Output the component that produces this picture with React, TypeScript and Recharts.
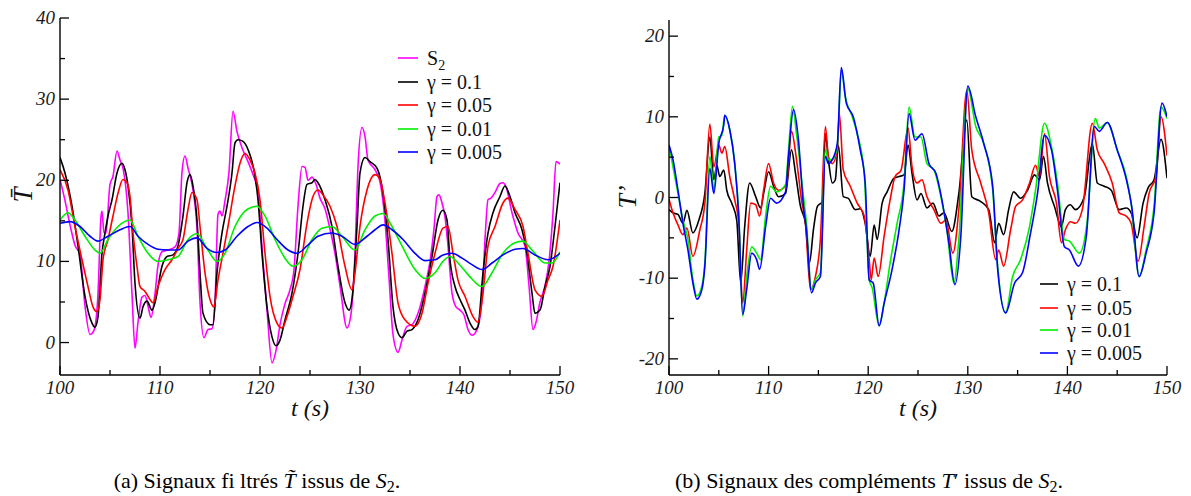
import React from 'react';
import { LineChart, Line, XAxis, YAxis } from 'recharts';

const SERIF = 'Liberation Serif';
const FONT_CSS = `
#root .serif, #root .serif tspan, #root svg text.serif { font-family: "Liberation Serif", "Times New Roman", Tinos, serif !important; }
#root .serif.it, #root tspan.it { font-style: italic !important; }
`;

// ---------- Panel (a): filtered signals ----------
const s2T = [100,100.5,101,101.5,102,102.5,103,103.4,103.8,104.1,104.2,104.4,104.6,105,105.3,105.7,106,106.3,106.8,107.2,107.5,107.8,108.2,108.5,108.8,109.1,109.5,109.8,110.2,110.8,111.5,111.9,112.2,112.5,112.8,113.3,113.7,114,114.4,114.8,115.2,115.5,115.8,116,116.2,116.5,116.9,117.3,117.7,118.2,118.8,119.3,119.8,120.3,120.7,121.2,121.6,122,122.5,123,123.4,123.8,124.2,124.5,124.8,125.2,125.6,126,126.5,127,127.5,128,128.7,129.1,129.5,129.8,130.2,130.5,130.8,131.5,132,132.5,132.9,133.3,133.8,134.2,134.7,135.2,135.8,136.5,137,137.4,137.7,137.9,138.2,138.5,138.8,139.2,139.6,140,140.4,140.8,141.2,141.7,142.2,142.5,142.8,143.1,143.5,144,144.3,144.6,145.2,145.8,146.5,146.9,147.3,147.6,148,148.5,148.9,149.3,149.6,150];
const s2V = [20.1,17.5,14.5,12,10.8,4.5,1.0,1.5,6,15.5,16.2,13.5,13.5,19.5,20.5,23.6,22.5,21.5,16,6,-0.7,2.5,5.6,5.8,4.5,3.1,6,9.5,11.2,11.4,11.8,13.5,21,23,21.5,18.8,14,5,0.6,1.6,1.7,5,15.8,16.2,15.6,17.5,21,28.5,26,24,22.3,20.7,18.5,10,4,-2.5,-1,2.2,4.8,6.5,9,16.8,21.7,21.6,20,20.4,19.5,17.8,16.5,14,11,7,1.8,3.5,11,21.7,26.5,25.4,22.5,21.3,19.8,15,8,1,-1.2,0.3,2,2.2,3.6,6.9,10,14,18,18.2,17.2,15.5,11.9,6.1,4.4,4,3.4,1.6,0.9,1.6,5.3,12.7,17.6,17.8,18.5,19.6,19.7,19.2,16,13.5,11.9,7,1.6,2.5,5,7,10,16,22.3,22];

const a01T = [100,100.5,101.2,101.8,102.5,103.2,103.5,103.8,104.2,104.5,104.8,105.2,105.7,106.2,106.5,106.8,107.2,107.5,108,108.3,108.7,109.2,109.5,110.2,110.7,111.3,111.8,112.3,112.7,113,113.3,113.7,114,114.3,115,115.3,115.7,116.2,116.7,117.2,117.5,117.8,118.3,118.8,119.5,119.8,120.2,120.7,121.2,121.6,122,122.5,123.2,123.8,124.3,124.7,125.2,125.5,125.8,126.5,127.2,127.8,128.5,128.9,129.3,129.7,130,130.5,131,131.7,132.3,132.8,133.3,133.8,134.2,134.7,135.2,135.8,136.5,137.2,137.8,138.3,138.7,139,139.5,140,140.5,141,141.5,141.8,142.3,142.8,143.3,144,144.5,145,145.5,146.2,146.7,147.2,147.5,148,148.5,149,149.5,150];
const a01V = [22.8,20.9,16.8,11.9,5.7,2.4,1.9,3.2,11,13.5,15.6,17.6,20.9,22.1,21.3,19.3,14.3,7.3,3,4.4,5.1,4,4.9,9.4,10.6,10.8,11.9,15.6,19.7,20.7,19.3,15.1,8.6,3.6,2.2,2.2,8.6,13.5,16.8,20.9,24.6,25,24.8,23.8,20.5,17.6,11,4.4,0.7,-0.4,0.3,2.8,6.1,11,16.8,19.5,19.7,20.1,19.7,17.6,14.3,9.4,4.9,4,6.5,14.3,20.9,22.8,22.3,21.5,18.4,12.7,4.4,1.2,0.6,1.4,1.6,2.8,6.1,10.6,15.1,16.3,15.1,10.2,6.9,5.3,4,2.4,1.6,2,8.6,13.5,16,18,19.3,18,16,13.9,11,6.1,3.6,4,6.9,9.4,14.3,19.7];

const a005T = [100,100.8,101.5,102.2,102.8,103.3,103.7,104,104.3,104.8,105.3,105.8,106.3,106.7,107,107.3,107.7,108,108.5,109,109.3,109.8,110.5,111.2,111.8,112.3,112.8,113.2,113.7,114,114.5,115,115.4,115.8,116.3,116.8,117.5,118,118.5,119,119.5,120,120.5,121,121.7,122.2,122.7,123.3,124,124.7,125.3,125.8,126.3,127,127.7,128.5,129.2,129.5,130,130.7,131.5,132,132.5,133.2,133.8,134.5,135.5,136.2,136.8,137.5,138.3,138.8,139.3,139.8,140.5,141.3,141.8,142.3,142.8,143.5,144.3,144.8,145.5,146.3,146.8,147.5,148.2,148.8,149.3,150];
const a005V = [21.3,18.8,14.3,10.2,6.9,4.4,3.8,5.3,10.2,12.7,15.6,18.4,20.1,19.7,18,13.5,9.4,6.9,6.3,5.3,4.9,6.9,9,10.2,11.6,12.7,16.4,18.5,17.6,14.3,8.6,5.3,4.4,7.7,11,14.3,19.3,22.1,23.3,22.5,20.9,17.6,11,5.7,2.4,1.8,3.2,5.7,9,14.7,18,18.8,18.2,16.8,14.3,9.4,6.5,8.6,14.3,18.8,20.7,20.1,17.2,11,4.9,2.8,2,3.6,7.3,11,14.1,14.3,11,7.7,5.7,3.2,2.5,6.1,11.9,14.3,17.2,17.8,16.4,14.3,11,6.5,5.7,7.7,9.4,15.1];

const a001T = [100,100.8,101.5,102.5,103.5,104,104.8,105.8,107,107.8,108.8,109.8,110.8,111.8,112.8,113.7,114.7,115.7,116.5,117.5,118.7,119.7,120.5,121.5,122.5,123.3,124.2,125.2,126.2,127.2,128.2,129.5,130.5,131.5,132.3,133.2,134.2,135.5,136.5,137.5,138.3,139,139.8,141,142.2,143.2,144.3,145.5,146.3,147.2,148.5,149.2,150];
const a001V = [15.1,16,15.1,13.1,11.4,11,12.7,14.3,15.1,13.1,11,10,10.2,10.6,12.7,13.4,11.6,10,11,14.3,16.4,16.8,15.6,12.7,10.4,9.4,10.2,12.7,14.1,14.3,13.1,11.4,13.9,15.6,15.9,14.3,11.9,9,7.9,8.6,10,10.6,9.8,8.1,6.9,8.6,11,12.3,12.5,11.4,9.8,9.8,11.2];

const a0005T = [100,101,102,103,103.8,104.8,106,107,107.8,108.8,109.8,110.8,111.8,112.8,113.7,114.7,115.7,116.5,117.7,118.8,119.7,120.7,121.7,122.8,123.7,124.7,125.8,127.2,128.2,129.5,130.7,131.5,132.3,133.2,134.3,135.5,136.5,137.5,138.3,139.2,140.2,141.2,142.2,143.2,144.3,145.5,146.3,147.5,148.8,150];
const a0005V = [14.7,14.9,14.3,13.1,12.5,13.1,13.9,14.3,13.1,12.1,11.5,11.4,11.4,12.5,12.9,11.6,11.1,11.4,13.1,14.3,14.8,14.1,12.7,11.4,11,11.9,13.1,13.5,13.1,12.1,13.1,13.9,14.5,13.9,12.7,11,10.1,10.2,10.8,11,10.4,9.6,9,9.8,10.8,11.5,11.6,10.8,10.2,11];

// ---------- Panel (b): complements ----------
const b01T = [100,100.4,100.9,101.4,101.8,102.4,103,103.6,104.1,104.5,104.8,105.1,105.5,105.8,106.3,106.8,107.2,107.6,108.1,108.7,109.2,109.5,110,110.5,111,111.7,112.3,112.7,113.2,113.7,114.1,114.5,114.9,115.4,115.7,116,116.4,116.7,117,117.5,118,118.7,119.2,119.7,120.2,120.6,120.9,121.4,121.9,122.6,123.1,123.6,124,124.4,124.9,125.3,125.9,126.5,127.1,127.6,128.4,129.1,129.9,130.4,131.3,132.1,132.7,133.1,133.6,134.1,134.6,135.3,136,136.7,137.2,137.6,138,138.7,139.4,139.8,140.3,140.8,141.7,142.5,143,143.7,144.4,145.2,145.9,146.4,147,147.6,148.1,148.7,149.4,150];
const b01V = [-1.5,-1.9,-2.1,-3.2,-1.6,-4.4,-2.8,0.5,7.5,2.2,4,2.6,3.4,0.9,-0.7,-2.8,-10.6,-3.6,1.8,0.1,-1.3,0.5,3.2,1.4,0.1,0.5,5.9,3,-1.1,-3.2,-8.1,-4,-1.1,-0.5,7.9,4.7,1.8,2.2,6.5,0.1,-0.1,-1.5,-1.4,-3.2,-7.3,-3.4,-5.2,-0.7,0.7,2.4,2.6,2.8,6.5,3,-0.3,0.5,-1.3,-0.7,-2.3,-1.9,-4.2,0.5,9.6,0.1,-0.5,-1.5,-5.6,-3.2,-4.6,-1.5,0.7,-0.1,0.9,2.8,2.2,5.1,1.8,-1.1,-3.6,-1.5,-0.9,-1.5,0.1,6.7,1.8,1.4,0.9,-1.5,-1.3,-1.9,-5,-0.7,1.2,2.2,7.2,2.4];

const b005T = [100,100.4,100.9,101.4,101.8,102.4,103.1,103.6,104.1,104.5,105,105.3,105.6,106.1,106.6,107,107.4,107.8,108.2,108.7,109.1,109.5,110,110.5,111,111.8,112.3,112.8,113.3,113.7,114.2,114.7,115.2,115.7,116,116.4,116.9,117.1,117.5,118.2,118.9,119.6,120.1,120.3,120.6,121,121.6,122.2,122.7,123.3,124,124.4,124.9,125.4,125.9,126.6,127.3,127.8,128.5,129.1,129.9,130.4,131.3,132.1,132.8,133.1,133.6,134.3,134.8,135.5,136.2,136.8,137.2,137.7,138.2,138.9,139.4,139.8,140.3,140.8,141.5,142.5,143,143.7,144.5,145.2,145.9,146.4,147.1,147.7,148.2,148.9,149.4,150];
const b005V = [-0.2,-1.9,-3.4,-4.6,-3.8,-7.3,-4,-0.7,9.1,3.8,6.5,5.5,6.3,2.6,-0.3,-3.2,-13.1,-6.5,-0.7,-0.9,-2.3,0.9,4.2,1.8,0.9,1.6,8.2,4.7,-0.3,-3.2,-11.4,-9.8,-5.2,8.8,5.1,4.2,5.9,10.4,3.4,1.4,-0.7,-2.3,-7.7,-10.2,-7.5,-9.8,-4.8,-0.3,2.6,3.4,8.6,3.8,1.8,2.2,0.1,-1.5,-3.2,-2.8,-6.9,-1.5,13.3,5.9,1.8,-1.9,-7.7,-6.5,-8.5,-4,-1.1,-0.3,1.8,4,2.6,7.9,2.6,-0.7,-5.6,-4,-3,-3.2,-1.5,9.2,5.9,4.2,1.8,-1.9,-2.3,-3.2,-7.9,-3.6,0.5,2.6,10,5.2];

const b001T = [100,100.4,100.9,101.4,101.9,102.4,102.8,103.3,103.6,104.1,104.5,105,105.3,105.6,106.1,106.6,107,107.4,107.8,108.3,108.8,109.2,109.7,110.2,110.8,111.7,112,112.4,112.8,113.5,113.8,114.3,114.7,115.2,115.7,116,116.4,116.9,117.3,117.7,118.4,118.9,119.6,120.1,120.4,121.1,121.6,122.2,122.9,123.6,124.1,124.7,125.3,125.9,126.6,127.3,127.9,128.6,129.1,130,130.8,131.6,132.5,133,133.8,134.5,135.3,136.2,136.8,137.7,138.4,139,139.7,140.2,141.2,142,142.8,143.2,144,145,145.9,146.4,147.2,147.9,148.7,149.4,150];
const b001V = [6.5,3.8,0.5,-2.8,-5.2,-10.2,-12.2,-11,-8.1,5.1,0.9,7.5,7.7,10.2,8.4,4.2,-1.9,-14.7,-9.8,-6.1,-6.9,-7.7,-2.3,1.4,0.7,1.6,5.9,11.3,7.9,0.1,-3.2,-11.4,-10.2,-9.3,5.9,4.7,4.7,6.3,15.8,12.5,10,7.9,3,-10.2,-11.2,-15.9,-13.1,-8.1,-3.2,1.8,11.2,7.5,7.5,4.2,3.4,0.1,-4,-10.6,-5.2,13.5,8.8,6.7,0.9,-8.5,-14.3,-9.8,-7.7,-3.6,0.9,9.2,6.3,1.8,-5.2,-5.4,-6.9,-2.8,9.8,8.6,9.3,5.9,2.6,-0.7,-9.8,-6.5,-1.1,11.2,9.8];

const b0005T = [100,100.4,100.9,101.4,101.9,102.4,102.8,103.3,103.6,104.1,104.5,105,105.5,105.6,106.1,106.6,107,107.4,107.8,108.3,108.8,109.1,109.7,110.2,110.8,111.7,112,112.5,113,113.5,113.8,114.3,114.7,115.2,115.7,116,116.4,116.9,117.3,117.8,118.5,119.2,119.7,120.1,120.5,121.1,121.6,122.4,123.1,123.6,124.1,124.7,125.4,126.1,126.8,127.4,128.1,128.7,129.3,130,130.8,131.6,132.5,133,133.8,134.7,135.5,136.3,137,137.7,138.4,139,139.7,140.2,141.1,141.9,142.7,143.2,144,145,146,146.5,147.2,147.9,148.7,149.5,150];
const b0005V = [6.5,4.7,0.9,-3.2,-6.5,-10.6,-12.6,-11.4,-8.5,3.6,0.5,6.7,9,10.2,8.4,4.2,-2.3,-14.5,-11.4,-6.9,-7.7,-8.9,-3.6,-0.1,-0.7,0.7,5.1,10.9,7.1,-1.1,-4,-11.8,-10.6,-9.8,5.1,4.2,4.7,6.7,16.1,11.7,10,5.9,1.8,-10.2,-10.6,-15.9,-13.1,-8.9,-4,0.9,10.4,7.1,7.9,4.2,3,-0.3,-5.6,-10.8,-4.8,13.8,10,6.7,1.4,-8.9,-14.3,-10.6,-9.3,-4.4,0.5,7.7,5.9,0.9,-6.1,-6.5,-8.5,-4.8,8.8,8.2,9.3,5.9,1.8,-1.5,-9.8,-6.9,-1.9,11.7,10];

const xTicks = [100, 105, 110, 115, 120, 125, 130, 135, 140, 145, 150];
const yTicksA = [0, 5, 10, 15, 20, 25, 30, 35, 40];
const yTicksB = [-20, -15, -10, -5, 0, 5, 10, 15, 20];

const mk = (ts: number[], vs: number[]) => ts.map((t, i) => ({ t, v: vs[i] }));

const seriesA = [
  { key: 's2', label: 'S', sub: '2', color: '#ff00ff', data: mk(s2T, s2V) },
  { key: 'a01', label: 'γ = 0.1', color: '#000000', data: mk(a01T, a01V) },
  { key: 'a005', label: 'γ = 0.05', color: '#ff0000', data: mk(a005T, a005V) },
  { key: 'a001', label: 'γ = 0.01', color: '#00ee00', data: mk(a001T, a001V) },
  { key: 'a0005', label: 'γ = 0.005', color: '#0000ff', data: mk(a0005T, a0005V) },
];
const seriesB = [
  { key: 'b01', label: 'γ = 0.1', color: '#000000', data: mk(b01T, b01V) },
  { key: 'b005', label: 'γ = 0.05', color: '#ff0000', data: mk(b005T, b005V) },
  { key: 'b001', label: 'γ = 0.01', color: '#00ee00', data: mk(b001T, b001V) },
  { key: 'b0005', label: 'γ = 0.005', color: '#0000ff', data: mk(b0005T, b0005V) },
];

const AX = { stroke: '#000', strokeWidth: 1.4 };

const makeXTick = (side: 'bottom' | 'top', labelled: boolean) => (props: any) => {
  const { x, y, payload } = props;
  const v = payload.value as number;
  const major = v % 10 === 0;
  const len = major ? 9 : 5;
  const dir = side === 'bottom' ? -1 : 1;
  return (
    <g>
      <line x1={x} y1={y} x2={x} y2={y + dir * len} stroke="#000" strokeWidth={1.3} />
      {labelled && major ? (
        <text className="serif it" x={x} y={y + 19} textAnchor="middle" fill="#1a1a1a" fontFamily={SERIF} fontStyle="italic" fontSize={19}>{v}</text>
      ) : null}
    </g>
  );
};

const makeYTick = (side: 'left' | 'right', labelled: boolean) => (props: any) => {
  const { x, y, payload } = props;
  const v = payload.value as number;
  const major = v % 10 === 0;
  const len = major ? 9 : 5;
  const dir = side === 'left' ? 1 : -1;
  return (
    <g>
      <line x1={x} y1={y} x2={x + dir * len} y2={y} stroke="#000" strokeWidth={1.3} />
      {labelled && major ? (
        <text className="serif it" x={x - 5} y={y + 6} textAnchor="end" fill="#1a1a1a" fontFamily={SERIF} fontStyle="italic" fontSize={19}>{v}</text>
      ) : null}
    </g>
  );
};

function Panel({ series, yDomain, yTicks, margin, width }: any) {
  return (
    <LineChart width={width} height={420} margin={margin}>
      <XAxis xAxisId="b" type="number" dataKey="t" domain={[100, 150]} ticks={xTicks} orientation="bottom"
        height={45} tickSize={0} tickMargin={0} tickLine={false} axisLine={AX} allowDataOverflow
        tick={makeXTick('bottom', true)} interval={0} />
      <XAxis xAxisId="t" type="number" dataKey="t" domain={[100, 150]} ticks={xTicks} orientation="top"
        height={0} tickSize={0} tickMargin={0} tickLine={false} axisLine={AX} allowDataOverflow
        tick={makeXTick('top', false)} interval={0} />
      <YAxis yAxisId="l" type="number" domain={yDomain} ticks={yTicks} orientation="left" width={60}
        tickSize={0} tickMargin={0} tickLine={false} axisLine={AX} allowDataOverflow
        tick={makeYTick('left', true)} interval={0} />
      <YAxis yAxisId="r" type="number" domain={yDomain} ticks={yTicks} orientation="right" width={0}
        tickSize={0} tickMargin={0} tickLine={false} axisLine={AX} allowDataOverflow
        tick={makeYTick('right', false)} interval={0} />
      {series.map((s: any) => (
        <Line key={s.key} xAxisId="b" yAxisId="l" data={s.data} dataKey="v" type="monotone"
          stroke={s.color} strokeWidth={1.6} dot={false} activeDot={false} isAnimationActive={false} />
      ))}
    </LineChart>
  );
}

export default function App() {
  const legA = { x1: 398, x2: 418, tx: 427, rows: [58, 82, 105, 129, 152] };
  const legB = { x1: 1040, x2: 1058, tx: 1067, rows: [284, 308, 330, 353] };
  return (
    <div style={{ position: 'relative', marginLeft: -8, marginTop: -8, width: 1191, height: 496, background: '#fff' }}>
      <style>{FONT_CSS}</style>
      <div style={{ position: 'absolute', left: 0, top: 0 }}>
        <Panel series={seriesA} yDomain={[-4, 40]} yTicks={yTicksA} width={600}
          margin={{ top: 18, right: 40, bottom: 0, left: 0 }} />
      </div>
      <div style={{ position: 'absolute', left: 609, top: 0 }}>
        <Panel series={seriesB} yDomain={[-22, 22]} yTicks={yTicksB} width={582}
          margin={{ top: 20, right: 24, bottom: 0, left: 0 }} />
      </div>
      <svg width={1191} height={496} style={{ position: 'absolute', left: 0, top: 0, pointerEvents: 'none' }}>
        <text className="serif it" transform="translate(32,195) rotate(-90)" textAnchor="middle" fill="#111" fontFamily={SERIF} fontStyle="italic" fontSize={27}>T̄</text>
        <text className="serif it" transform="translate(636,197) rotate(-90)" textAnchor="middle" fill="#111" fontFamily={SERIF} fontStyle="italic" fontSize={26}>T’</text>
        <text className="serif it" x={310} y={416} textAnchor="middle" fill="#111" fontFamily={SERIF} fontStyle="italic" fontSize={24}>t (s)</text>
        <text className="serif it" x={918} y={416} textAnchor="middle" fill="#111" fontFamily={SERIF} fontStyle="italic" fontSize={24}>t (s)</text>
        {seriesA.map((s, i) => (
          <g key={s.key}>
            <line x1={legA.x1} x2={legA.x2} y1={legA.rows[i]} y2={legA.rows[i]} stroke={s.color} strokeWidth={1.6} />
            <text className="serif" x={legA.tx} y={legA.rows[i] + 7} fill="#111" fontFamily={SERIF} fontSize={20}>
              {s.label}
              {s.sub ? <tspan dy={5} fontSize={14}>{s.sub}</tspan> : null}
            </text>
          </g>
        ))}
        {seriesB.map((s, i) => (
          <g key={s.key}>
            <line x1={legB.x1} x2={legB.x2} y1={legB.rows[i]} y2={legB.rows[i]} stroke={s.color} strokeWidth={1.6} />
            <text className="serif" x={legB.tx} y={legB.rows[i] + 7} fill="#111" fontFamily={SERIF} fontSize={20}>{s.label}</text>
          </g>
        ))}
        <text className="serif" x={257} y={488} textAnchor="middle" fill="#000" fontFamily={SERIF} fontSize={22}>
          (a) Signaux fi ltrés <tspan className="it" fontStyle="italic">T̃</tspan> issus de <tspan className="it" fontStyle="italic">S</tspan><tspan dy={4} fontSize={16}>2</tspan><tspan dy={-4}>.</tspan>
        </text>
        <text className="serif" x={869} y={488} textAnchor="middle" fill="#000" fontFamily={SERIF} fontSize={22}>
          (b) Signaux des compléments <tspan className="it" fontStyle="italic">T</tspan>′ issus de <tspan className="it" fontStyle="italic">S</tspan><tspan dy={4} fontSize={16}>2</tspan><tspan dy={-4}>.</tspan>
        </text>
      </svg>
    </div>
  );
}
